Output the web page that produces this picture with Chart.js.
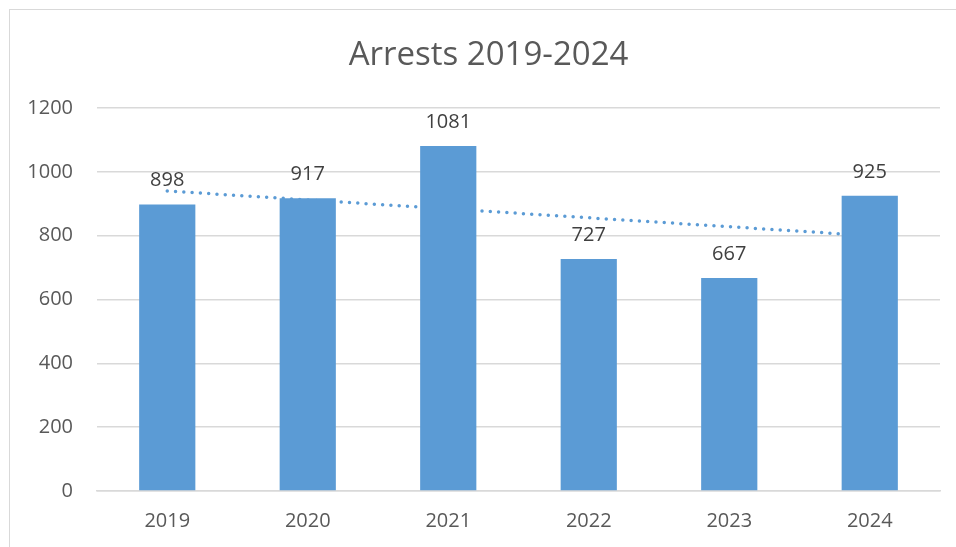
<!DOCTYPE html>
<html>
<head>
<meta charset="utf-8">
<script src="https://cdn.jsdelivr.net/npm/chart.js@4/dist/chart.umd.min.js"></script>
<style>
  html, body { margin: 0; padding: 0; overflow: hidden; background: #fff; }
  #wrap { position: relative; width: 956px; height: 547px; }
  #frame { position: absolute; left: 9px; top: 9px; width: 1000px; height: 600px; border: 1px solid #d9d9d9; box-sizing: border-box; pointer-events: none; }
  canvas { position: absolute; left: 0; top: 0; }
</style>
</head>
<body>
<div id="wrap">
  <canvas id="chart" width="956" height="547"></canvas>
  <div id="frame"></div>
</div>
<script>
let years = ['2019', '2020', '2021', '2022', '2023', '2024']
let arrests = [898, 917, 1081, 727, 667, 925]
// linear trend line, ends
let trend = [940, null, null, null, null, 800]
let titleText = 'Arrests 2019-2024'

let fontName = "'Open Sans', 'Noto Sans', sans-serif"

// title is centred on the whole chart frame, not the canvas
let chartTitle = {
    id: 'chartTitle',
    afterDraw(chart) {
        let ctx = chart.ctx
        ctx.save()
        ctx.font = '33px ' + fontName
        ctx.fillStyle = '#595959'
        ctx.textAlign = 'center'
        ctx.textBaseline = 'alphabetic'
        ctx.fillText(titleText, 488.5, 65)
        ctx.restore()
    }
}

let valueLabels = {
    id: 'valueLabels',
    afterDatasetsDraw(chart) {
        let ctx = chart.ctx
        let meta = chart.getDatasetMeta(0)
        ctx.save()
        ctx.font = '20px ' + fontName
        ctx.fillStyle = '#404040'
        ctx.textAlign = 'center'
        ctx.textBaseline = 'alphabetic'
        meta.data.forEach((bar, i) => {
            ctx.fillText(String(arrests[i]), bar.x, bar.y - 18)
        })
        ctx.restore()
    }
}

let chart = new Chart(
    document.getElementById('chart'),
    {
        type: 'bar',
        data: {
            labels: years,
            datasets: [
                {
                    label: 'Arrests',
                    data: arrests,
                    backgroundColor: '#5b9bd5',
                    barPercentage: 0.4,
                    categoryPercentage: 1.0,
                    order: 1
                },
                {
                    type: 'line',
                    label: 'Linear trend',
                    data: trend,
                    spanGaps: true,
                    borderColor: '#5b9bd5',
                    borderWidth: 3.5,
                    borderDash: [0, 8.3],
                    borderCapStyle: 'round',
                    pointRadius: 0,
                    fill: false,
                    order: 2
                }
            ]
        },
        options: {
            responsive: false,
            animation: false,
            layout: {
                padding: { left: 0, right: 16, top: 108, bottom: 0 }
            },
            plugins: {
                legend: { display: false },
                tooltip: { enabled: false },
                title: { display: false }
            },
            scales: {
                x: {
                    grid: { display: false, drawTicks: false },
                    border: { display: true, color: '#d9d9d9', width: 1.5 },
                    ticks: {
                        color: '#595959',
                        font: { family: fontName, size: 20 },
                        padding: 18
                    },
                    afterFit: (scale) => { scale.height = 56 }
                },
                y: {
                    min: 0,
                    max: 1200,
                    grid: { color: '#d9d9d9', lineWidth: 1.5, drawTicks: false },
                    border: { display: false },
                    ticks: {
                        stepSize: 200,
                        color: '#595959',
                        font: { family: fontName, size: 20 },
                        padding: 24,
                        callback: (value) => String(value)
                    },
                    afterFit: (scale) => { scale.width = 97 }
                }
            }
        },
        plugins: [valueLabels, chartTitle]
    }
)
</script>
</body>
</html>
